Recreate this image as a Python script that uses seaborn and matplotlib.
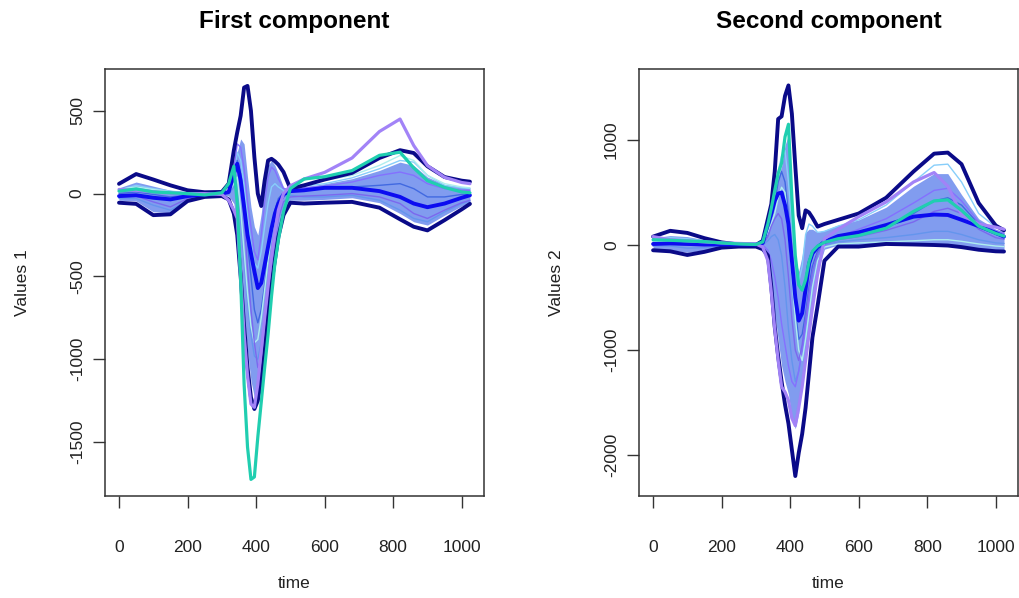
import numpy as np
import pandas as pd
import seaborn as sns
import matplotlib.pyplot as plt

sns.set_style("ticks")
plt.rcParams['font.family'] = ['Liberation Sans', 'DejaVu Sans']
plt.rcParams['axes.unicode_minus'] = False

# time knots shared by all curves
T = [0, 50, 100, 150, 200, 250, 300, 320, 335, 345, 355, 365, 375, 385, 395, 405,
     415, 425, 435, 445, 455, 465, 480, 500, 540, 600, 680, 760, 820, 860, 900, 950,
     1000, 1024]

# ---- first component
L_up = [59, 118, 85, 50, 20, 8, 10, 60, 260, 370, 470, 640, 650, 500, 220, 0, -75, 79,
        200, 210, 195, 175, 130, 30, 50, 85, 125, 215, 262, 245, 165, 100, 78, 72]
L_lo = [-55, -62, -130, -125, -45, -20, -15, -35, -120, -250, -500, -800, -1050, -1230,
        -1300, -1250, -1120, -950, -730, -540, -400, -260, -130, -55, -60, -55, -50, -85,
        -155, -200, -222, -160, -95, -62]
L_med = [-15, -10, -25, -35, -15, -5, 0, 10, 120, 180, 80, -80, -250, -360, -470, -570,
         -540, -430, -320, -210, -120, -60, -5, 15, 20, 35, 35, 15, -20, -60, -82, -60,
         -25, -10]
L_pur = [25, 20, 10, 5, 0, 0, -5, -40, -100, -150, -500, -850, -1100, -1270, -1290, -1150,
         -950, -750, -560, -380, -230, -100, 0, 47, 88, 128, 215, 375, 450, 290, 169, 98,
         67, 60]
L_teal = [15, 28, 10, 5, 0, -8, 5, 60, 165, -60, -520, -1150, -1530, -1725, -1710, -1470,
          -1260, -1050, -850, -620, -420, -280, -110, 30, 88, 102, 139, 231, 250, 155, 78,
          37, 10, 5]
L_bhi = [35, 70, 45, 20, 8, 5, 5, 20, 180, 250, 330, 300, 100, -80, -200, -250, -120, 60,
         170, 200, 170, 120, 40, 20, 40, 60, 90, 140, 190, 170, 100, 55, 40, 35]
L_blo = [-40, -45, -110, -115, -35, -15, -10, -15, -60, -220, -450, -720, -950, -1130,
         -1230, -1200, -1060, -880, -680, -500, -360, -230, -100, -40, -40, -35, -25, -55,
         -120, -170, -190, -130, -75, -55]
LT1 = [20, 50, 30, 15, 5, 5, 5, 15, 120, 250, 200, 50, -150, -300, -420, -450, -350, -200,
       -60, 40, 60, 40, 20, 25, 45, 60, 95, 150, 200, 190, 110, 50, 35, 30]
LT2 = [-30, -30, -70, -100, -40, -15, -5, -5, 40, 60, -150, -400, -650, -850, -980, -1000,
       -900, -720, -520, -330, -180, -80, -20, -10, -20, -20, -10, -40, -100, -150, -170,
       -110, -60, -45]
LT3 = [0, 10, -5, -20, -10, 0, 0, 5, 80, 200, 120, -60, -300, -500, -700, -780, -700, -550,
       -380, -220, -100, -30, 5, 10, 20, 30, 40, 50, 60, 30, -20, -20, -5, -5]
LT4 = [10, 30, 15, 0, -5, 0, 0, 10, 150, 300, 280, 150, -50, -200, -350, -400, -250, -50,
       100, 160, 140, 90, 30, 20, 35, 45, 70, 110, 130, 110, 60, 30, 20, 20]
LT5 = [25, 40, 25, 10, 5, 5, 5, 10, 60, 100, -100, -350, -600, -800, -900, -880, -750, -580,
       -400, -250, -130, -50, 10, 30, 55, 80, 110, 170, 230, 200, 110, 60, 40, 35]
LT6 = [-20, -15, -50, -80, -30, -10, -5, 0, 100, 180, 80, -150, -450, -700, -900, -1050,
       -1000, -850, -650, -450, -280, -150, -50, -20, -15, -10, 0, -20, -60, -120, -150,
       -100, -55, -40]

# ---- second component
R_up = [80, 135, 115, 65, 25, 5, 0, 40, 250, 390, 700, 1200, 1225, 1420, 1520, 1250, 750,
        280, 160, 330, 310, 260, 175, 200, 240, 300, 450, 700, 870, 880, 770, 400, 185, 140]
R_lo = [-50, -60, -95, -65, -25, -15, -15, -40, -100, -400, -780, -1060, -1300, -1520,
        -1700, -1950, -2200, -1980, -1800, -1550, -1220, -880, -580, -150, -15, -15, 10, 5,
        0, -5, -20, -45, -60, -62]
R_med = [10, 15, 10, 5, 5, 5, 5, 20, 200, 300, 420, 490, 500, 380, 200, -150, -500, -720,
         -650, -420, -180, -80, -20, 30, 85, 120, 190, 270, 290, 286, 240, 180, 115, 80]
R_pur = [80, 50, 40, 30, 20, 15, 10, -20, -150, -450, -800, -1100, -1350, -1400, -1480,
         -1650, -1720, -1550, -1350, -1100, -850, -600, -280, 60, 150, 270, 410, 600, 690,
         560, 290, 200, 170, 150]
R_teal = [50, 45, 38, 32, 20, 10, 5, 30, 200, 350, 520, 680, 780, 1030, 1150, 450, -100,
          -380, -430, -330, -160, -60, -10, 25, 60, 90, 160, 320, 420, 430, 330, 180, 110, 85]
R_bhi = [70, 90, 80, 50, 25, 15, 10, 20, 150, 300, 480, 650, 750, 950, 1050, 400, -150,
         -250, -100, 120, 150, 150, 120, 140, 190, 240, 360, 560, 680, 680, 480, 250, 150, 130]
R_blo = [-40, -45, -70, -50, -15, -10, -10, -20, -80, -350, -650, -900, -1150, -1300, -1420,
         -1650, -1750, -1600, -1250, -1000, -780, -560, -250, -40, 0, 5, 15, 15, 10, 5, -10,
         -30, -45, -48]
RT1 = [60, 70, 60, 40, 20, 10, 5, 20, 150, 300, 500, 700, 850, 900, 600, 200, -200, -350,
       -200, 100, 200, 180, 120, 130, 180, 240, 380, 600, 760, 770, 600, 300, 170, 140]
RT2 = [-10, -10, -30, -25, -5, 0, 0, 0, 40, 80, 100, 50, -100, -400, -800, -1100, -1300,
       -1200, -1000, -750, -500, -300, -100, 0, 30, 50, 70, 100, 130, 130, 100, 50, 20, 15]
RT3 = [20, 30, 20, 10, 5, 5, 5, 10, 100, 250, 400, 600, 700, 600, 300, -100, -600, -900,
       -850, -650, -400, -200, -60, 20, 60, 100, 180, 300, 420, 450, 380, 200, 100, 80]
RT4 = [40, 50, 45, 30, 15, 10, 5, 0, -50, -150, -300, -500, -750, -950, -1150, -1300, -1350,
       -1200, -1000, -780, -550, -350, -150, 0, 80, 150, 250, 400, 520, 540, 420, 220, 130, 110]
RT5 = [30, 40, 35, 20, 10, 5, 5, 15, 120, 200, 300, 450, 550, 500, 150, -300, -700, -1000,
       -1100, -900, -650, -400, -150, -20, 10, 20, 30, 40, 50, 50, 35, 10, -10, -15]
RT6 = [0, 10, 0, -10, 0, 0, 0, 5, 80, 180, 250, 300, 250, 50, -300, -700, -1000, -1100, -950,
       -700, -450, -250, -80, 10, 50, 80, 140, 220, 320, 350, 300, 150, 70, 55]

NAVY = "#0a0a88"
BLUE = "#0c0cf0"
PURPLE = "#a283f7"
TEAL = "#20ceb0"
BAND = "#6283ec"
THIN_COLORS = ["#87cefa", "#6495ed", "#4169e1", "#8470ff", "#aeeeee", "#7b68ee"]
EDGE = "#333333"


def line(ax, y, color, lw):
    sns.lineplot(x=T, y=y, ax=ax, color=color, linewidth=lw, estimator=None,
                 sort=False, legend=False)


def panel(ax, blo, bhi, thin, lo, up, med, pur, teal, title, ylabel, ylim, yticks):
    ax.fill_between(T, blo, bhi, color=BAND, alpha=0.8, lw=0)
    for y, c in zip(thin, THIN_COLORS):
        line(ax, y, c, 1.0)
    line(ax, up, NAVY, 2.8)
    line(ax, lo, NAVY, 2.8)
    line(ax, med, BLUE, 2.8)
    line(ax, pur, PURPLE, 2.3)
    line(ax, teal, TEAL, 2.3)

    ax.set_xlim(-41, 1065)
    ax.set_ylim(*ylim)
    ax.set_xticks([0, 200, 400, 600, 800, 1000])
    ax.set_yticks(yticks)
    ax.tick_params(axis="both", length=8.5, width=1, color=EDGE, labelsize=12.5,
                   labelcolor="#222222")
    ax.tick_params(axis="x", pad=23)
    ax.tick_params(axis="y", pad=6)
    for lab in ax.get_yticklabels():
        lab.set_rotation(90)
        lab.set_va("center")
    for s in ax.spines.values():
        s.set_color(EDGE)
        s.set_linewidth(1.1)
    ax.set_xlabel("time", fontsize=12.5, color="#222222")
    ax.xaxis.set_label_coords(0.5, -0.204)
    ax.xaxis.label.set_va("center")
    ax.set_ylabel(ylabel, fontsize=12.5, color="#222222")
    ax.yaxis.set_label_coords(-0.218, 0.5)
    ax.yaxis.label.set_va("center")
    ax.set_title(title, fontsize=17.5, fontweight="bold", color="black", y=1.112,
                 va="center", pad=0)


fig = plt.figure(figsize=(10.2, 5.98), dpi=100)
ax1 = fig.add_axes([0.1029, 0.1706, 0.3716, 0.714])
ax2 = fig.add_axes([0.6265, 0.1706, 0.3716, 0.714])

panel(ax1, L_blo, L_bhi, [LT1, LT2, LT3, LT4, LT5, LT6], L_lo, L_up, L_med, L_pur, L_teal,
      "First component", "Values 1", (-1825, 752), [-1500, -1000, -500, 0, 500])
panel(ax2, R_blo, R_bhi, [RT1, RT2, RT3, RT4, RT5, RT6], R_lo, R_up, R_med, R_pur, R_teal,
      "Second component", "Values 2", (-2390, 1676), [-2000, -1000, 0, 1000])

fig.savefig("out.png", dpi=100)
